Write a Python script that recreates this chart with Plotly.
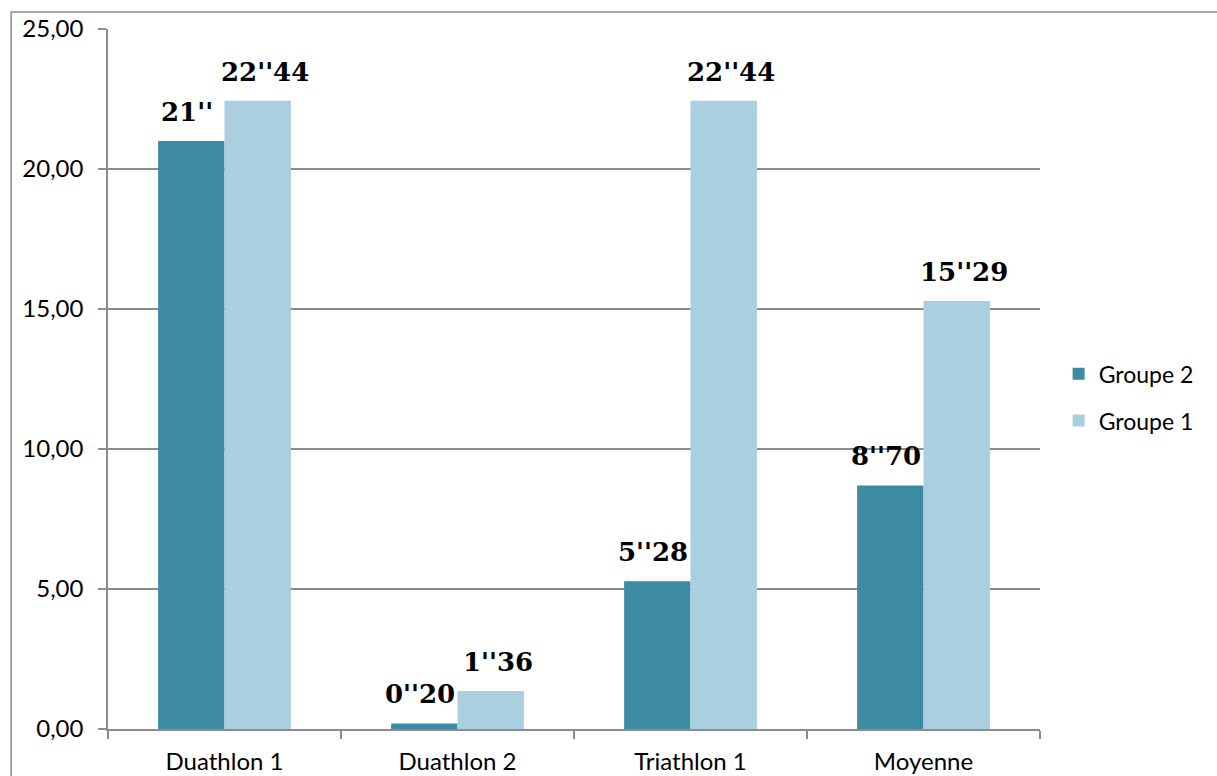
import plotly.graph_objects as go

categories = ["Duathlon 1", "Duathlon 2", "Triathlon 1", "Moyenne"]
groupe2 = [21.00, 0.20, 5.28, 8.70]
groupe1 = [22.44, 1.36, 22.44, 15.29]
labels2 = ["21''", "0''20", "5''28", "8''70"]
labels1 = ["22''44", "1''36", "22''44", "15''29"]
y_ticks = [0, 5, 10, 15, 20, 25]

c2 = "#3d8ba3"
c1 = "#aacfde"
grey = "#8c8c8c"

fig = go.Figure()
fig.add_trace(go.Bar(name="Groupe 2", x=categories, y=groupe2, marker=dict(color=c2, line=dict(width=0)),
                     legendgroup="g2"))
fig.add_trace(go.Bar(name="Groupe 1", x=categories, y=groupe1, marker=dict(color=c1, line=dict(width=0)),
                     legendgroup="g1"))

ann = []
for cat, v, t in zip(categories, groupe2, labels2):
    ann.append(dict(x=cat, y=v, text="<b>" + t + "</b>", xref="x", yref="y", showarrow=False,
                    yanchor="bottom", xanchor="center", xshift=-38, yshift=12,
                    font=dict(family="DejaVu Serif", size=26, color="black")))
for cat, v, t in zip(categories, groupe1, labels1):
    ann.append(dict(x=cat, y=v, text="<b>" + t + "</b>", xref="x", yref="y", showarrow=False,
                    yanchor="bottom", xanchor="center", xshift=40, yshift=12,
                    font=dict(family="DejaVu Serif", size=26, color="black")))

fig.update_layout(
    width=1217, height=776,
    margin=dict(l=108, r=177, t=29, b=47),
    paper_bgcolor="white", plot_bgcolor="white",
    barmode="group", bargap=0.43, bargroupgap=0,
    separators=",.",
    font=dict(family="Lato", size=24, color="black"),
    annotations=ann,
    legend=dict(x=1.02, y=0.474, xanchor="left", yanchor="middle", traceorder="grouped",
                tracegroupgap=14, font=dict(size=23), itemwidth=30),
    xaxis=dict(showline=True, linecolor=grey, linewidth=1.5, ticks="outside", tickson="boundaries",
               ticklen=8, tickcolor=grey, tickwidth=1.5, showgrid=False, tickfont=dict(size=24),
               ticklabelstandoff=10, automargin=False),
    yaxis=dict(range=[0, 25], tickvals=y_ticks, tickformat=".2f", showline=True, linecolor=grey,
               linewidth=1.5, ticks="outside", ticklen=8, tickcolor=grey, tickwidth=1.5,
               showgrid=True, gridcolor=grey, gridwidth=1.5, zeroline=False, tickfont=dict(size=24),
               ticklabelstandoff=10, automargin=False),
    shapes=[dict(type="rect", xref="paper", yref="paper", x0=-0.104, x1=1.4, y0=-0.1, y1=1.0243,
                 line=dict(color=grey, width=1.5), fillcolor="rgba(0,0,0,0)", layer="below")],
)

fig.write_html("out.html")
